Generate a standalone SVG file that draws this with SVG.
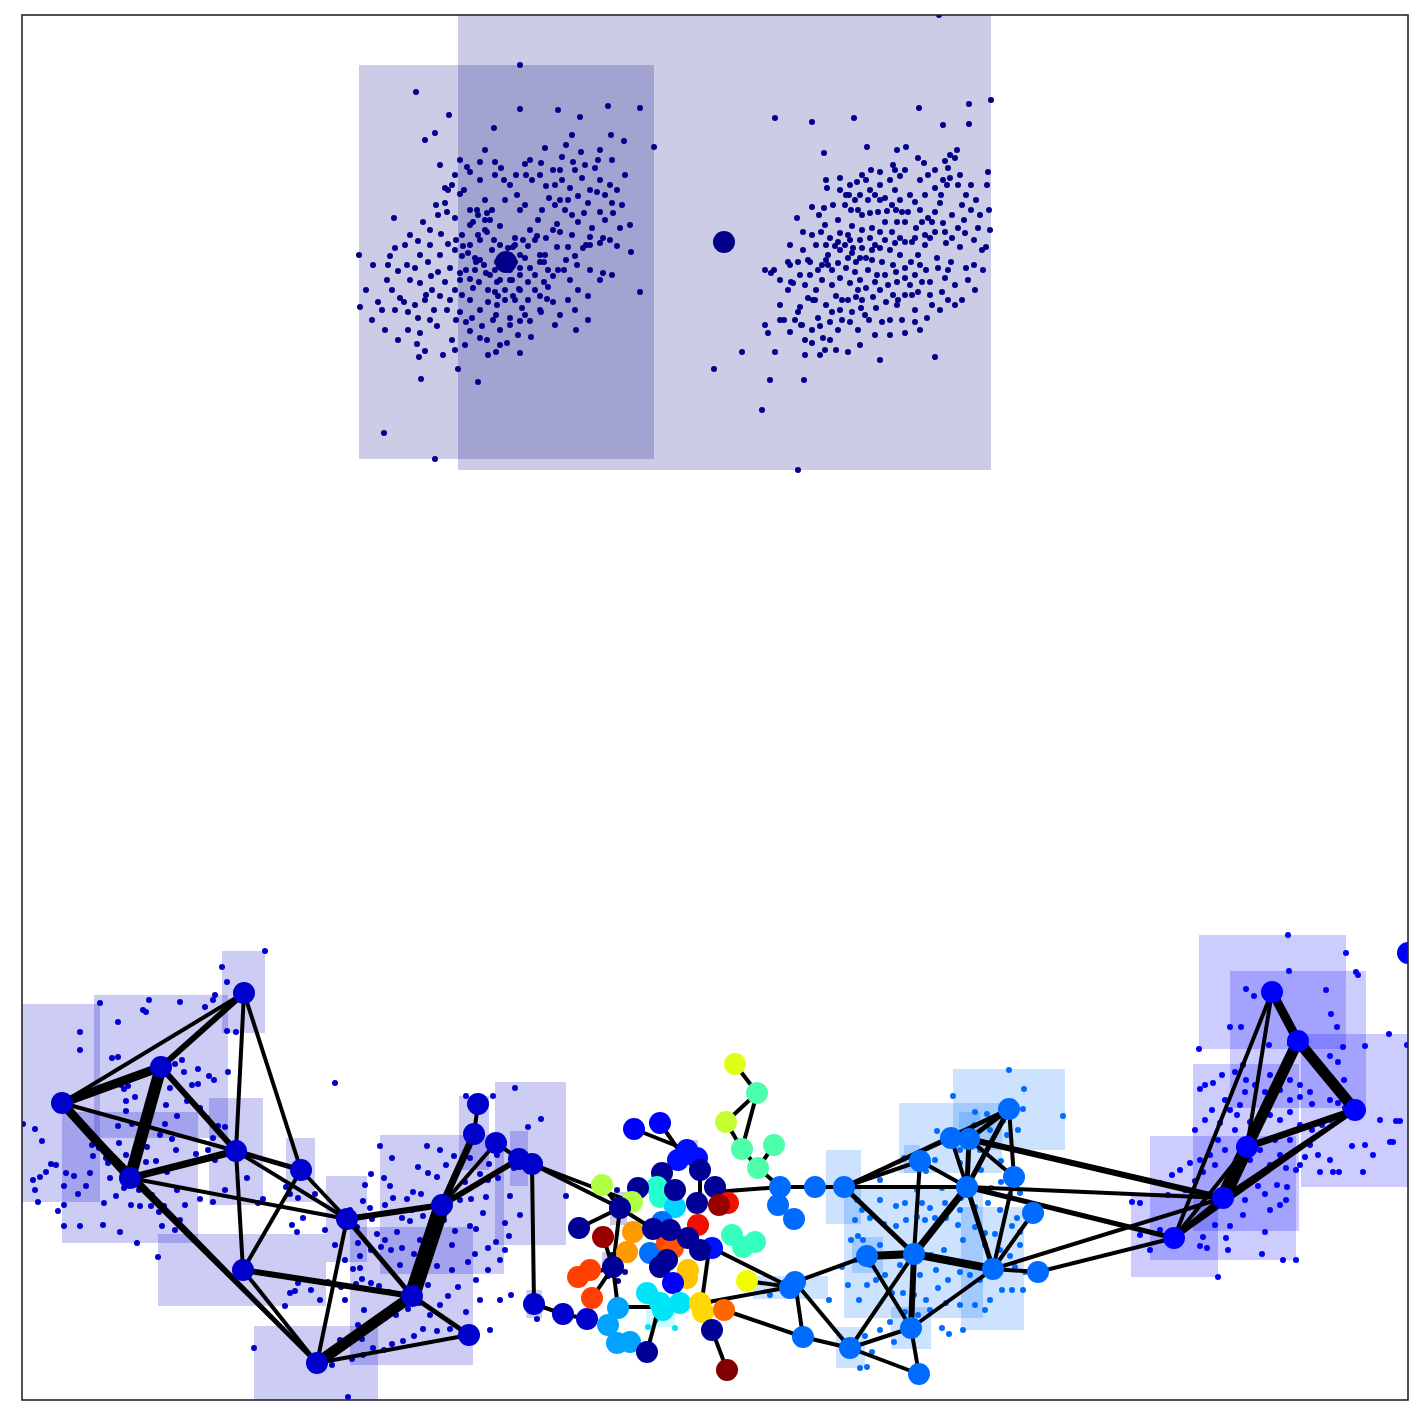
<svg xmlns="http://www.w3.org/2000/svg" width="1423" height="1423" viewBox="0 0 1423 1423">
<style>
.rt{fill:#000080;fill-opacity:.2}
.rl{fill:#0000cd;fill-opacity:.2}
.rr{fill:#0000ff;fill-opacity:.2}
.rm{fill:#006cff;fill-opacity:.2}
.d{fill:none;stroke-linecap:round;stroke-width:6}
.e{stroke:#000;stroke-linecap:butt;stroke-width:4}
.nl{fill:#0000cd}
.nr{fill:#0000ff}
.nm{fill:#006cff}
.nt{fill:#000088}
</style>
<defs>
<clipPath id="ax"><rect x="22" y="15" width="1386" height="1385"/></clipPath>
</defs>
<rect x="0" y="0" width="1423" height="1423" fill="#fff"/>
<g clip-path="url(#ax)">
<g id="regions">
<rect class="rt" x="359" y="65" width="295" height="394"/>
<rect class="rt" x="458" y="0" width="533" height="470"/>
<rect class="rl" x="10" y="1004" width="90" height="198"/>
<rect class="rl" x="94" y="995" width="134" height="143"/>
<rect class="rl" x="62" y="1112" width="136" height="131"/>
<rect class="rl" x="222" y="951" width="43" height="82"/>
<rect class="rl" x="209" y="1098" width="54" height="107"/>
<rect class="rl" x="158" y="1234" width="168" height="72"/>
<rect class="rl" x="254" y="1326" width="124" height="84"/>
<rect class="rl" x="286" y="1138" width="29" height="64"/>
<rect class="rl" x="326" y="1176" width="41" height="86"/>
<rect class="rl" x="380" y="1135" width="124" height="139"/>
<rect class="rl" x="350" y="1227" width="123" height="138"/>
<rect class="rl" x="459" y="1096" width="30" height="74"/>
<rect class="rl" x="495" y="1082" width="71" height="163"/>
<rect class="rl" x="510" y="1131" width="18" height="55"/>
<rect class="rl" x="526" y="1290" width="16" height="28"/>
<rect class="rt" x="610" y="1192" width="17" height="33"/>
<rect class="rt" x="602" y="1252" width="10" height="21"/>
<rect class="rt" x="687" y="1140" width="11" height="10"/>
<rect x="646" y="1303" width="29" height="24" fill="#00e4f8" fill-opacity=".2"/>
<rect class="rm" x="753" y="1276" width="75" height="23"/>
<rect class="rm" x="953" y="1069" width="112" height="81"/>
<rect class="rm" x="899" y="1103" width="103" height="70"/>
<rect class="rm" x="959" y="1112" width="21" height="33"/>
<rect class="rm" x="826" y="1150" width="35" height="74"/>
<rect class="rm" x="904" y="1145" width="16" height="28"/>
<rect class="rm" x="844" y="1189" width="139" height="129"/>
<rect class="rm" x="961" y="1207" width="63" height="123"/>
<rect class="rm" x="852" y="1237" width="31" height="36"/>
<rect class="rm" x="891" y="1307" width="40" height="42"/>
<rect class="rm" x="836" y="1327" width="29" height="41"/>
<rect class="rr" x="1199" y="935" width="147" height="114"/>
<rect class="rr" x="1230" y="971" width="136" height="137"/>
<rect class="rr" x="1301" y="1034" width="110" height="153"/>
<rect class="rr" x="1193" y="1064" width="106" height="167"/>
<rect class="rr" x="1150" y="1136" width="146" height="124"/>
<rect class="rr" x="1131" y="1193" width="87" height="84"/>
</g>
<g id="points">
<path class="d" stroke="#000088" d="M520 65h0M416 92h0M449 115h0M520 109h0M558 110h0M608 106h0M640 108h0M580 117h0M494 128h0M425 140h0M435 133h0M611 135h0M572 135h0M654 147h0M624 141h0M440 165h0M581 152h0M562 157h0M598 160h0M541 163h0M573 162h0M612 160h0M595 168h0M460 160h0M467 167h0M495 162h0M501 168h0M525 164h0M545 148h0M553 170h0M526 175h0M546 186h0M549 198h0M560 200h0M532 180h0M510 185h0M480 180h0M464 190h0M445 203h0M447 212h0M455 218h0M478 215h0M485 220h0M492 210h0M470 225h0M520 210h0M525 205h0M538 220h0M557 224h0M572 215h0M584 213h0M600 212h0M612 203h0M605 220h0M586 245h0M603 238h0M630 225h0M631 252h0M617 246h0M590 237h0M568 247h0M572 235h0M553 230h0M535 240h0M523 240h0M515 238h0M500 226h0M487 232h0M470 245h0M455 250h0M440 255h0M462 256h0M480 260h0M475 270h0M486 273h0M495 270h0M513 247h0M520 255h0M525 258h0M544 262h0M545 255h0M557 247h0M560 232h0M566 260h0M577 265h0M590 270h0M570 280h0M548 287h0M535 290h0M520 290h0M515 300h0M522 308h0M540 296h0M568 300h0M588 296h0M600 280h0M640 292h0M560 315h0M576 330h0M555 325h0M525 315h0M510 325h0M500 330h0M493 320h0M480 310h0M470 300h0M462 295h0M450 300h0M440 296h0M426 295h0M415 305h0M408 312h0M395 310h0M382 310h0M378 302h0M360 307h0M373 265h0M390 256h0M398 271h0M407 265h0M410 280h0M420 283h0M431 276h0M432 290h0M400 298h0M387 280h0M359 255h0M394 218h0M441 234h0M448 244h0M430 230h0M452 185h0M460 194h0M418 241h0M428 262h0M450 268h0M460 280h0M473 288h0M488 290h0M498 296h0M505 290h0M512 280h0M500 280h0M497 305h0M487 340h0M496 352h0M520 353h0M507 343h0M480 338h0M470 331h0M452 340h0M443 355h0M425 351h0M417 344h0M420 333h0M437 326h0M456 320h0M466 322h0M482 326h0M458 369h0M478 382h0M421 379h0M419 357h0M384 433h0M435 459h0M540 262h0M530 268h0M510 270h0M492 250h0M515 262h0M505 255h0M497 262h0M530 230h0M480 240h0M462 235h0M470 210h0M485 200h0M505 200h0M517 195h0M542 210h0M555 205h0M590 190h0M600 180h0M625 175h0M610 185h0M582 178h0M570 188h0M562 180h0M456 240h0M438 272h0M445 282h0M455 290h0M475 258h0M535 275h0M548 270h0M558 270h0M603 273h0M612 275h0M578 290h0M553 302h0M540 310h0M528 300h0M575 310h0M588 320h0M477 210h0M487 213h0M490 220h0M485 230h0M473 222h0M478 235h0M494 240h0M500 245h0M508 248h0M515 245h0M528 246h0M537 236h0M546 238h0M540 255h0M528 282h0M520 268h0M520 275h0M510 280h0M497 282h0M490 275h0M484 265h0M476 262h0M468 253h0M463 246h0M466 270h0M460 273h0M470 279h0M479 282h0M488 302h0M495 292h0M519 289h0M513 296h0M505 300h0M496 315h0M510 318h0M520 321h0M530 321h0M541 312h0M547 299h0M544 282h0M553 276h0M564 270h0M575 256h0M583 248h0M590 245h0M600 243h0M610 240h0M592 228h0M578 222h0M565 210h0M568 200h0M578 196h0M588 203h0M597 192h0M605 195h0M617 190h0M622 205h0M613 213h0M620 228h0M480 162h0M470 172h0M495 175h0M504 180h0M516 175h0M530 160h0M540 175h0M555 185h0M560 170h0M575 170h0M585 165h0M600 150h0M566 145h0M485 150h0M455 175h0M445 188h0M438 215h0M430 245h0M420 255h0M415 268h0M425 300h0M434 310h0M447 310h0M460 312h0M472 318h0M465 345h0M455 350h0M488 355h0M500 345h0M518 335h0M531 337h0M448 190h0M436 205h0M423 222h0M410 235h0M405 245h0M395 248h0M388 265h0M392 290h0M404 302h0M418 318h0M430 320h0M408 330h0M398 340h0M385 330h0M372 320h0M366 290h0"/>
<path class="d" stroke="#000088" d="M939 15h0M775 118h0M812 122h0M854 118h0M919 108h0M969 104h0M991 100h0M969 124h0M943 125h0M906 147h0M897 150h0M824 153h0M867 147h0M945 161h0M893 165h0M924 163h0M895 170h0M918 158h0M900 176h0M920 180h0M935 170h0M955 158h0M950 155h0M957 150h0M988 172h0M987 185h0M971 185h0M958 185h0M947 185h0M941 195h0M880 185h0M866 180h0M871 170h0M857 182h0M840 178h0M826 180h0M827 188h0M849 195h0M833 205h0M846 195h0M851 210h0M855 200h0M824 208h0M812 207h0M819 215h0M821 232h0M803 232h0M808 260h0M797 218h0M790 245h0M790 265h0M774 270h0M771 273h0M780 280h0M765 270h0M791 282h0M793 283h0M800 275h0M810 262h0M826 260h0M840 250h0M828 255h0M826 245h0M830 238h0M840 233h0M848 235h0M838 220h0M852 226h0M862 215h0M870 213h0M878 212h0M887 211h0M896 210h0M908 212h0M900 200h0M910 195h0M920 210h0M932 222h0M943 223h0M952 238h0M965 233h0M974 240h0M990 230h0M986 247h0M960 247h0M951 262h0M948 270h0M966 268h0M974 265h0M983 270h0M937 258h0M925 245h0M912 242h0M900 238h0M892 232h0M880 232h0M870 238h0M860 240h0M853 248h0M848 258h0M856 262h0M866 258h0M872 260h0M882 262h0M893 265h0M905 268h0M911 262h0M918 255h0M900 255h0M890 250h0M880 248h0M872 250h0M868 270h0M860 280h0M850 283h0M840 278h0M832 285h0M822 280h0M816 290h0M808 298h0M800 307h0M798 312h0M795 320h0M802 325h0M818 318h0M830 322h0M840 310h0M848 300h0M856 297h0M862 300h0M873 297h0M880 290h0M888 285h0M897 282h0M910 285h0M922 282h0M930 295h0M942 292h0M948 300h0M932 305h0M915 310h0M902 320h0M890 320h0M882 322h0M869 320h0M861 308h0M850 322h0M838 330h0M830 340h0M823 338h0M812 343h0M805 355h0M790 332h0M784 320h0M768 333h0M765 325h0M775 352h0M742 352h0M714 369h0M770 380h0M762 410h0M804 380h0M825 350h0M848 352h0M858 330h0M880 360h0M897 305h0M912 295h0M920 330h0M935 357h0M801 325h0M813 300h0M832 270h0M846 268h0M855 272h0M877 275h0M905 242h0M916 228h0M928 218h0M940 203h0M962 205h0M971 210h0M952 215h0M946 243h0M964 220h0M895 190h0M880 200h0M860 195h0M870 190h0M905 222h0M930 238h0M920 265h0M893 295h0M860 258h0M838 263h0M822 265h0M816 245h0M836 296h0M788 262h0M798 470h0M845 205h0M858 210h0M868 200h0M875 195h0M885 198h0M892 205h0M902 212h0M915 202h0M925 195h0M935 188h0M943 180h0M950 178h0M960 175h0M966 195h0M976 200h0M980 215h0M958 228h0M945 232h0M935 232h0M925 235h0M915 238h0M895 243h0M885 240h0M875 245h0M862 248h0M852 253h0M845 245h0M835 246h0M828 265h0M818 270h0M810 275h0M805 285h0M815 300h0M826 305h0M842 300h0M858 290h0M866 288h0M875 282h0M885 275h0M896 272h0M905 278h0M915 275h0M926 270h0M938 268h0M945 278h0M955 285h0M930 282h0M918 292h0M905 295h0M898 300h0M886 302h0M876 308h0M865 315h0M852 312h0M842 320h0M832 312h0M820 326h0M812 330h0M805 340h0M820 355h0M836 350h0M860 345h0M875 335h0M890 335h0M905 333h0M915 322h0M927 318h0M940 310h0M955 305h0M962 300h0M975 290h0M968 280h0M982 250h0M978 228h0M989 210h0M935 212h0M922 222h0M897 222h0M885 222h0M872 228h0M862 230h0M850 240h0M838 242h0M825 225h0M812 235h0M803 250h0M798 262h0M788 290h0M780 305h0M780 320h0M840 190h0M850 185h0M862 175h0M880 172h0M890 180h0M905 170h0M928 175h0M948 168h0"/>
<path class="d" stroke="#0000cd" d="M265 951h0M222 967h0M227 982h0M149 1000h0M100 1003h0M180 1002h0M143 1010h0M146 1012h0M118 1022h0M80 1032h0M80 1050h0M118 1057h0M213 1000h0M215 995h0M205 1007h0M236 1032h0M227 1031h0M112 1058h0M182 1060h0M175 1064h0M198 1069h0M184 1072h0M121 1085h0M128 1086h0M124 1089h0M135 1097h0M126 1101h0M150 1096h0M170 1088h0M192 1085h0M198 1084h0M209 1076h0M214 1080h0M228 1072h0M166 1105h0M177 1116h0M187 1101h0M200 1108h0M207 1118h0M218 1126h0M213 1138h0M225 1127h0M165 1124h0M150 1115h0M172 1139h0M147 1147h0M136 1153h0M126 1155h0M116 1163h0M108 1163h0M93 1156h0M92 1145h0M99 1148h0M106 1158h0M119 1143h0M132 1124h0M118 1126h0M126 1111h0M142 1124h0M160 1135h0M176 1150h0M196 1154h0M208 1150h0M215 1160h0M225 1190h0M213 1202h0M200 1199h0M185 1205h0M177 1190h0M167 1172h0M156 1161h0M146 1162h0M134 1165h0M110 1178h0M90 1173h0M86 1186h0M78 1194h0M74 1176h0M64 1186h0M51 1164h0M56 1165h0M46 1172h0M40 1177h0M35 1190h0M35 1129h0M23 1124h0M42 1141h0M66 1173h0M104 1203h0M116 1196h0M124 1188h0M139 1190h0M152 1195h0M164 1206h0M180 1220h0M175 1230h0M162 1226h0M151 1206h0M140 1206h0M131 1205h0M120 1232h0M103 1225h0M64 1205h0M64 1226h0M80 1226h0M38 1202h0M33 1180h0M58 1211h0M137 1243h0M158 1257h0M159 1212h0M247 1178h0M263 1199h0M258 1203h0M303 1218h0M292 1225h0M298 1198h0M290 1194h0M286 1187h0M315 1194h0M297 1232h0M254 1348h0M285 1306h0M290 1293h0M295 1291h0M335 1083h0M466 1096h0M493 1096h0M515 1088h0M380 1146h0M427 1146h0M440 1150h0M454 1156h0M470 1158h0M392 1158h0M418 1167h0M428 1173h0M437 1177h0M446 1165h0M465 1182h0M480 1174h0M488 1180h0M498 1178h0M510 1196h0M520 1215h0M505 1223h0M483 1213h0M470 1226h0M455 1231h0M438 1227h0M423 1216h0M410 1221h0M402 1218h0M397 1232h0M385 1240h0M377 1234h0M372 1219h0M357 1227h0M350 1221h0M363 1201h0M370 1208h0M385 1205h0M393 1198h0M407 1199h0M413 1192h0M421 1194h0M412 1210h0M390 1186h0M384 1178h0M371 1174h0M365 1185h0M350 1210h0M358 1243h0M360 1256h0M371 1250h0M381 1247h0M391 1250h0M402 1248h0M414 1254h0M428 1258h0M437 1266h0M452 1270h0M468 1262h0M475 1254h0M488 1248h0M496 1242h0M488 1270h0M476 1280h0M458 1287h0M448 1296h0M440 1305h0M430 1315h0M423 1329h0M414 1336h0M403 1341h0M392 1344h0M384 1350h0M373 1348h0M363 1355h0M352 1359h0M362 1339h0M374 1325h0M385 1318h0M396 1315h0M408 1309h0M419 1303h0M389 1292h0M379 1286h0M371 1283h0M362 1279h0M353 1269h0M345 1260h0M345 1300h0M364 1310h0M437 1331h0M450 1329h0M466 1312h0M480 1300h0M490 1330h0M500 1300h0M511 1295h0M476 1229h0M505 1250h0M325 1230h0M335 1245h0M320 1300h0M340 1340h0M332 1365h0M348 1397h0M298 1283h0M341 1287h0M356 1284h0M360 1268h0M311 1290h0M328 1282h0M518 1155h0M514 1168h0M528 1127h0M541 1119h0M499 1140h0M497 1155h0M489 1164h0M471 1199h0M486 1197h0M509 1236h0M500 1260h0M453 1181h0M460 1200h0M444 1220h0M452 1245h0M420 1240h0M400 1265h0M415 1278h0M428 1285h0M358 1325h0M566 1196h0M537 1319h0"/>
<path class="d" stroke="#000088" d="M617 1190h0M612 1255h0M625 1272h0M608 1276h0M618 1281h0M635 1203h0"/>
<path class="d" stroke="#00e4f8" d="M648 1327h0M675 1328h0M656 1320h0"/>
<path class="d" stroke="#006cff" d="M1009 1070h0M1024 1089h0M953 1096h0M1063 1116h0M975 1112h0M987 1114h0M1023 1109h0M937 1131h0M974 1125h0M1003 1121h0M1018 1130h0M1007 1135h0M990 1130h0M980 1150h0M960 1150h0M1001 1161h0M995 1145h0M904 1158h0M935 1160h0M960 1163h0M981 1170h0M926 1171h0M880 1180h0M917 1190h0M942 1188h0M961 1198h0M991 1188h0M1001 1182h0M1010 1195h0M1020 1193h0M857 1200h0M862 1210h0M855 1220h0M880 1200h0M896 1206h0M905 1203h0M922 1203h0M930 1208h0M945 1203h0M960 1210h0M975 1207h0M988 1203h0M1000 1210h0M1017 1218h0M1020 1232h0M1012 1226h0M995 1234h0M985 1233h0M975 1227h0M958 1225h0M946 1218h0M935 1218h0M925 1220h0M917 1217h0M906 1220h0M896 1226h0M884 1224h0M870 1218h0M858 1236h0M863 1240h0M851 1240h0M856 1260h0M842 1267h0M848 1285h0M859 1300h0M867 1285h0M876 1280h0M885 1275h0M892 1293h0M903 1293h0M914 1295h0M926 1300h0M938 1288h0M948 1280h0M960 1272h0M970 1275h0M980 1280h0M1002 1290h0M1012 1290h0M1023 1290h0M990 1300h0M975 1305h0M960 1305h0M946 1303h0M930 1310h0M918 1315h0M905 1312h0M890 1322h0M880 1330h0M865 1336h0M872 1352h0M894 1342h0M903 1330h0M942 1328h0M931 1255h0M944 1250h0M950 1262h0M936 1270h0M920 1275h0M900 1265h0M890 1255h0M880 1245h0M870 1265h0M1000 1250h0M1010 1256h0M1015 1267h0M1025 1272h0M1020 1245h0M963 1240h0M985 1245h0M860 1368h0M867 1367h0M963 1330h0M949 1334h0M985 1310h0M829 1300h0M770 1295h0"/>
<path class="d" stroke="#0000ff" d="M1288 935h0M1346 953h0M1356 972h0M1358 975h0M1289 971h0M1246 989h0M1254 996h0M1326 990h0M1331 1014h0M1337 1027h0M1230 1027h0M1241 1027h0M1199 1049h0M1290 1044h0M1269 1045h0M1389 1034h0M1365 1046h0M1343 1047h0M1310 1052h0M1243 1065h0M1270 1075h0M1290 1080h0M1300 1085h0M1318 1062h0M1330 1056h0M1338 1062h0M1323 1074h0M1344 1080h0M1337 1085h0M1330 1100h0M1338 1103h0M1345 1108h0M1300 1097h0M1310 1092h0M1290 1100h0M1280 1090h0M1265 1092h0M1255 1085h0M1246 1080h0M1245 1092h0M1240 1105h0M1237 1115h0M1230 1110h0M1225 1100h0M1212 1110h0M1200 1089h0M1205 1085h0M1213 1083h0M1220 1123h0M1235 1130h0M1250 1122h0M1262 1120h0M1270 1115h0M1280 1120h0M1290 1112h0M1300 1125h0M1312 1130h0M1322 1125h0M1330 1120h0M1310 1145h0M1305 1157h0M1318 1155h0M1330 1160h0M1352 1146h0M1365 1145h0M1380 1120h0M1396 1121h0M1400 1121h0M1393 1142h0M1373 1155h0M1390 1142h0M1363 1172h0M1339 1172h0M1333 1172h0M1320 1172h0M1296 1170h0M1286 1168h0M1260 1175h0M1270 1165h0M1280 1155h0M1290 1140h0M1275 1140h0M1260 1150h0M1245 1140h0M1225 1150h0M1210 1155h0M1200 1160h0M1190 1163h0M1180 1170h0M1172 1175h0M1168 1195h0M1160 1183h0M1140 1203h0M1132 1202h0M1185 1190h0M1195 1181h0M1203 1172h0M1215 1165h0M1238 1160h0M1250 1160h0M1258 1186h0M1265 1194h0M1245 1200h0M1243 1215h0M1230 1226h0M1215 1225h0M1203 1237h0M1200 1246h0M1207 1248h0M1226 1238h0M1265 1232h0M1283 1260h0M1296 1260h0M1262 1254h0M1218 1277h0M1228 1250h0M1286 1200h0M1277 1185h0M1300 1165h0M1287 1187h0M1270 1210h0M1280 1205h0M1160 1230h0M1150 1250h0M1166 1240h0M1140 1235h0M1195 1130h0M1205 1120h0M1218 1140h0M1312 1104h0M1315 1065h0M1235 1072h0M1222 1075h0M1407 1045h0"/>
</g>
<g id="edges" class="e">
<line x1="62" y1="1103" x2="244" y2="993"/>
<line x1="62" y1="1103" x2="161" y2="1067" stroke-width="9"/>
<line x1="62" y1="1103" x2="130" y2="1178" stroke-width="9"/>
<line x1="62" y1="1103" x2="236" y2="1151"/>
<line x1="62" y1="1103" x2="317" y2="1363"/>
<line x1="161" y1="1067" x2="244" y2="993" stroke-width="6"/>
<line x1="161" y1="1067" x2="130" y2="1178" stroke-width="12"/>
<line x1="161" y1="1067" x2="236" y2="1151" stroke-width="6"/>
<line x1="244" y1="993" x2="236" y2="1151"/>
<line x1="244" y1="993" x2="301" y2="1170"/>
<line x1="130" y1="1178" x2="236" y2="1151" stroke-width="7"/>
<line x1="130" y1="1178" x2="347" y2="1219"/>
<line x1="130" y1="1178" x2="317" y2="1363"/>
<line x1="236" y1="1151" x2="301" y2="1170" stroke-width="5"/>
<line x1="236" y1="1151" x2="347" y2="1219"/>
<line x1="236" y1="1151" x2="243" y2="1270"/>
<line x1="301" y1="1170" x2="243" y2="1270"/>
<line x1="301" y1="1170" x2="347" y2="1219"/>
<line x1="243" y1="1270" x2="412" y2="1296" stroke-width="6"/>
<line x1="243" y1="1270" x2="317" y2="1363"/>
<line x1="347" y1="1219" x2="442" y2="1205" stroke-width="6"/>
<line x1="347" y1="1219" x2="412" y2="1296" stroke-width="5"/>
<line x1="347" y1="1219" x2="317" y2="1363"/>
<line x1="317" y1="1363" x2="412" y2="1296" stroke-width="11"/>
<line x1="317" y1="1363" x2="469" y2="1335"/>
<line x1="412" y1="1296" x2="469" y2="1335" stroke-width="5"/>
<line x1="412" y1="1296" x2="442" y2="1205" stroke-width="16"/>
<line x1="442" y1="1205" x2="474" y2="1134" stroke-width="7"/>
<line x1="474" y1="1134" x2="478" y2="1104"/>
<line x1="442" y1="1205" x2="496" y2="1143"/>
<line x1="442" y1="1205" x2="519" y2="1159" stroke-width="6"/>
<line x1="496" y1="1143" x2="519" y2="1159"/>
<line x1="519" y1="1159" x2="532" y2="1164"/>
<line x1="532" y1="1164" x2="534" y2="1304"/>
<line x1="534" y1="1304" x2="563" y2="1314"/>
<line x1="563" y1="1314" x2="587" y2="1319"/>
<line x1="532" y1="1164" x2="620" y2="1208"/>
<line x1="519" y1="1159" x2="632" y2="1202"/>
<line x1="735" y1="1064" x2="757" y2="1093"/>
<line x1="757" y1="1093" x2="726" y2="1122"/>
<line x1="757" y1="1093" x2="742" y2="1149"/>
<line x1="726" y1="1122" x2="742" y2="1149"/>
<line x1="742" y1="1149" x2="758" y2="1168"/>
<line x1="774" y1="1145" x2="758" y2="1168"/>
<line x1="758" y1="1168" x2="780" y2="1187"/>
<line x1="780" y1="1187" x2="844" y2="1187"/>
<line x1="780" y1="1187" x2="715" y2="1192"/>
<line x1="634" y1="1129" x2="687" y2="1150"/>
<line x1="660" y1="1123" x2="680" y2="1152"/>
<line x1="700" y1="1170" x2="700" y2="1200"/>
<line x1="620" y1="1208" x2="579" y2="1228"/>
<line x1="620" y1="1208" x2="602" y2="1185"/>
<line x1="620" y1="1208" x2="613" y2="1267"/>
<line x1="620" y1="1208" x2="653" y2="1229"/>
<line x1="613" y1="1267" x2="603" y2="1237"/>
<line x1="613" y1="1267" x2="578" y2="1277"/>
<line x1="613" y1="1267" x2="592" y2="1298"/>
<line x1="613" y1="1267" x2="627" y2="1252"/>
<line x1="613" y1="1267" x2="618" y2="1308"/>
<line x1="618" y1="1307" x2="663" y2="1307"/>
<line x1="647" y1="1352" x2="660" y2="1303"/>
<line x1="703" y1="1303" x2="790" y2="1287"/>
<line x1="712" y1="1248" x2="790" y2="1287"/>
<line x1="747" y1="1281" x2="790" y2="1287"/>
<line x1="724" y1="1310" x2="803" y2="1337"/>
<line x1="712" y1="1330" x2="727" y2="1370"/>
<line x1="712" y1="1330" x2="703" y2="1303"/>
<line x1="703" y1="1293" x2="708" y2="1257"/>
<line x1="795" y1="1282" x2="867" y2="1256"/>
<line x1="795" y1="1282" x2="803" y2="1337"/>
<line x1="795" y1="1282" x2="850" y2="1348"/>
<line x1="803" y1="1337" x2="850" y2="1348"/>
<line x1="844" y1="1187" x2="920" y2="1161"/>
<line x1="844" y1="1187" x2="951" y2="1138"/>
<line x1="844" y1="1187" x2="1009" y2="1109"/>
<line x1="844" y1="1187" x2="967" y2="1187"/>
<line x1="844" y1="1187" x2="914" y2="1254" stroke-width="5"/>
<line x1="920" y1="1161" x2="967" y2="1187"/>
<line x1="920" y1="1161" x2="914" y2="1254"/>
<line x1="951" y1="1138" x2="967" y2="1187"/>
<line x1="969" y1="1139" x2="967" y2="1187" stroke-width="5"/>
<line x1="1009" y1="1109" x2="967" y2="1187" stroke-width="5"/>
<line x1="1009" y1="1109" x2="969" y2="1139" stroke-width="5"/>
<line x1="1009" y1="1109" x2="951" y2="1138"/>
<line x1="1009" y1="1109" x2="1014" y2="1177"/>
<line x1="969" y1="1139" x2="1014" y2="1177"/>
<line x1="1014" y1="1177" x2="993" y2="1269"/>
<line x1="967" y1="1187" x2="914" y2="1254" stroke-width="7"/>
<line x1="967" y1="1187" x2="993" y2="1269" stroke-width="5"/>
<line x1="914" y1="1254" x2="993" y2="1269" stroke-width="8"/>
<line x1="867" y1="1256" x2="914" y2="1254" stroke-width="8"/>
<line x1="1033" y1="1213" x2="993" y2="1269"/>
<line x1="993" y1="1269" x2="1038" y2="1272"/>
<line x1="914" y1="1254" x2="911" y2="1328" stroke-width="6"/>
<line x1="914" y1="1254" x2="850" y2="1348"/>
<line x1="867" y1="1256" x2="911" y2="1328"/>
<line x1="993" y1="1269" x2="911" y2="1328"/>
<line x1="850" y1="1348" x2="911" y2="1328"/>
<line x1="850" y1="1348" x2="919" y2="1374"/>
<line x1="911" y1="1328" x2="919" y2="1374"/>
<line x1="969" y1="1139" x2="1223" y2="1198" stroke-width="6"/>
<line x1="967" y1="1187" x2="1223" y2="1198"/>
<line x1="967" y1="1187" x2="1174" y2="1238" stroke-width="5"/>
<line x1="993" y1="1269" x2="1223" y2="1198"/>
<line x1="1038" y1="1272" x2="1174" y2="1238"/>
<line x1="1272" y1="992" x2="1298" y2="1041" stroke-width="9"/>
<line x1="1298" y1="1041" x2="1355" y2="1110" stroke-width="11"/>
<line x1="1272" y1="992" x2="1247" y2="1147"/>
<line x1="1272" y1="992" x2="1174" y2="1238"/>
<line x1="1298" y1="1041" x2="1247" y2="1147" stroke-width="11"/>
<line x1="1247" y1="1147" x2="1223" y2="1198" stroke-width="14"/>
<line x1="1355" y1="1110" x2="1247" y2="1147" stroke-width="7"/>
<line x1="1355" y1="1110" x2="1223" y2="1198" stroke-width="5"/>
<line x1="1355" y1="1110" x2="1174" y2="1238"/>
<line x1="1247" y1="1147" x2="1174" y2="1238"/>
<line x1="1223" y1="1198" x2="1174" y2="1238" stroke-width="6"/>
</g>
<g id="nodes">
<g id="T1"><circle class="nt" cx="506" cy="262" r="11"/></g>
<g id="T2"><circle class="nt" cx="724" cy="242" r="11"/></g>
<g id="L1"><circle class="nl" cx="244" cy="993" r="11"/></g>
<g id="L2"><circle class="nl" cx="161" cy="1067" r="11"/></g>
<g id="L3"><circle class="nl" cx="62" cy="1103" r="11"/></g>
<g id="L4"><circle class="nl" cx="130" cy="1178" r="11"/></g>
<g id="L5"><circle class="nl" cx="236" cy="1151" r="11"/></g>
<g id="L6"><circle class="nl" cx="301" cy="1170" r="11"/></g>
<g id="L7"><circle class="nl" cx="347" cy="1219" r="11"/></g>
<g id="L8"><circle class="nl" cx="243" cy="1270" r="11"/></g>
<g id="L9"><circle class="nl" cx="317" cy="1363" r="11"/></g>
<g id="L10"><circle class="nl" cx="412" cy="1296" r="11"/></g>
<g id="L11"><circle class="nl" cx="469" cy="1335" r="11"/></g>
<g id="L12"><circle class="nl" cx="442" cy="1205" r="11"/></g>
<g id="L13"><circle class="nl" cx="474" cy="1134" r="11"/></g>
<g id="L14"><circle class="nl" cx="478" cy="1104" r="11"/></g>
<g id="L15"><circle class="nl" cx="496" cy="1143" r="11"/></g>
<g id="L16"><circle class="nl" cx="519" cy="1159" r="11"/></g>
<g id="L17"><circle class="nl" cx="532" cy="1164" r="11"/></g>
<g id="L18"><circle class="nl" cx="534" cy="1304" r="11"/></g>
<g id="L19"><circle class="nl" cx="563" cy="1314" r="11"/></g>
<g id="L20"><circle class="nl" cx="587" cy="1319" r="11"/></g>
<g id="C1"><circle cx="735" cy="1064" r="11" fill="#dfff18"/></g>
<g id="C2"><circle cx="757" cy="1093" r="11" fill="#4dffaa"/></g>
<g id="C3"><circle cx="726" cy="1122" r="11" fill="#c4ff33"/></g>
<g id="C4"><circle cx="742" cy="1149" r="11" fill="#4dffaa"/></g>
<g id="C5"><circle cx="774" cy="1145" r="11" fill="#4dffaa"/></g>
<g id="C6"><circle cx="758" cy="1168" r="11" fill="#4dffaa"/></g>
<g id="C7"><circle cx="634" cy="1129" r="11" fill="#0000ff"/></g>
<g id="C8"><circle cx="660" cy="1123" r="11" fill="#0000ff"/></g>
<g id="C9"><circle cx="687" cy="1150" r="11" fill="#0010ff"/></g>
<g id="C10"><circle cx="678" cy="1160" r="11" fill="#0010ff"/></g>
<g id="C11"><circle cx="697" cy="1158" r="11" fill="#0010ff"/></g>
<g id="C12"><circle cx="700" cy="1170" r="11" fill="#000096"/></g>
<g id="C13"><circle cx="662" cy="1173" r="11" fill="#000096"/></g>
<g id="C14"><circle cx="657" cy="1187" r="11" fill="#26ffd0"/></g>
<g id="C15"><circle cx="660" cy="1197" r="11" fill="#26ffd0"/></g>
<g id="C16"><circle cx="675" cy="1207" r="11" fill="#00d4ff"/></g>
<g id="C17"><circle cx="638" cy="1188" r="11" fill="#000096"/></g>
<g id="C18"><circle cx="675" cy="1190" r="11" fill="#000096"/></g>
<g id="C19"><circle cx="602" cy="1185" r="11" fill="#b0ff46"/></g>
<g id="C20"><circle cx="632" cy="1202" r="11" fill="#b0ff46"/></g>
<g id="C21"><circle cx="620" cy="1208" r="11" fill="#000096"/></g>
<g id="C22"><circle cx="579" cy="1228" r="11" fill="#000096"/></g>
<g id="C23"><circle cx="603" cy="1237" r="11" fill="#990000"/></g>
<g id="C24"><circle cx="697" cy="1203" r="11" fill="#000096"/></g>
<g id="C25"><circle cx="715" cy="1187" r="11" fill="#000096"/></g>
<g id="C26"><circle cx="728" cy="1203" r="11" fill="#f01000"/></g>
<g id="C27"><circle cx="719" cy="1205" r="11" fill="#990000"/></g>
<g id="C28"><circle cx="633" cy="1232" r="11" fill="#ff9900"/></g>
<g id="C29"><circle cx="627" cy="1252" r="11" fill="#ff9900"/></g>
<g id="C30"><circle cx="662" cy="1222" r="11" fill="#0070ff"/></g>
<g id="C31"><circle cx="650" cy="1253" r="11" fill="#0070ff"/></g>
<g id="C32"><circle cx="698" cy="1225" r="11" fill="#f01000"/></g>
<g id="C33"><circle cx="667" cy="1243" r="11" fill="#ff4400"/></g>
<g id="C34"><circle cx="673" cy="1248" r="11" fill="#ff5500"/></g>
<g id="C35"><circle cx="653" cy="1229" r="11" fill="#000096"/></g>
<g id="C36"><circle cx="670" cy="1230" r="11" fill="#000096"/></g>
<g id="C37"><circle cx="688" cy="1238" r="11" fill="#000096"/></g>
<g id="C38"><circle cx="712" cy="1248" r="11" fill="#0010ff"/></g>
<g id="C39"><circle cx="700" cy="1250" r="11" fill="#000096"/></g>
<g id="C40"><circle cx="732" cy="1235" r="11" fill="#36ffc0"/></g>
<g id="C41"><circle cx="743" cy="1247" r="11" fill="#36ffc0"/></g>
<g id="C42"><circle cx="755" cy="1242" r="11" fill="#36ffc0"/></g>
<g id="C43"><circle cx="667" cy="1260" r="11" fill="#000096"/></g>
<g id="C44"><circle cx="660" cy="1267" r="11" fill="#000096"/></g>
<g id="C45"><circle cx="613" cy="1267" r="11" fill="#000096"/></g>
<g id="C46"><circle cx="578" cy="1277" r="11" fill="#ff4000"/></g>
<g id="C47"><circle cx="590" cy="1270" r="11" fill="#ff4000"/></g>
<g id="C48"><circle cx="592" cy="1298" r="11" fill="#ff4000"/></g>
<g id="C49"><circle cx="688" cy="1270" r="11" fill="#ffc400"/></g>
<g id="C50"><circle cx="687" cy="1278" r="11" fill="#ffc400"/></g>
<g id="C51"><circle cx="673" cy="1283" r="11" fill="#0000ff"/></g>
<g id="C52"><circle cx="747" cy="1281" r="11" fill="#f1fc00"/></g>
<g id="C53"><circle cx="647" cy="1293" r="11" fill="#00e4f8"/></g>
<g id="C54"><circle cx="660" cy="1303" r="11" fill="#00e4f8"/></g>
<g id="C55"><circle cx="680" cy="1303" r="11" fill="#00e4f8"/></g>
<g id="C56"><circle cx="663" cy="1310" r="11" fill="#00e4f8"/></g>
<g id="C57"><circle cx="700" cy="1303" r="11" fill="#ffd800"/></g>
<g id="C58"><circle cx="703" cy="1312" r="11" fill="#ffd800"/></g>
<g id="C59"><circle cx="724" cy="1310" r="11" fill="#ff6600"/></g>
<g id="C60"><circle cx="618" cy="1308" r="11" fill="#00a4ff"/></g>
<g id="C61"><circle cx="608" cy="1325" r="11" fill="#00a4ff"/></g>
<g id="C62"><circle cx="617" cy="1343" r="11" fill="#00a4ff"/></g>
<g id="C63"><circle cx="630" cy="1342" r="11" fill="#00a4ff"/></g>
<g id="C64"><circle cx="647" cy="1352" r="11" fill="#000096"/></g>
<g id="C65"><circle cx="712" cy="1330" r="11" fill="#000096"/></g>
<g id="C66"><circle cx="727" cy="1370" r="11" fill="#800000"/></g>
<g id="M1"><circle class="nm" cx="1009" cy="1109" r="11"/></g>
<g id="M2"><circle class="nm" cx="951" cy="1138" r="11"/></g>
<g id="M3"><circle class="nm" cx="969" cy="1139" r="11"/></g>
<g id="M4"><circle class="nm" cx="920" cy="1161" r="11"/></g>
<g id="M5"><circle class="nm" cx="1014" cy="1177" r="11"/></g>
<g id="M6"><circle class="nm" cx="967" cy="1187" r="11"/></g>
<g id="M7"><circle class="nm" cx="844" cy="1187" r="11"/></g>
<g id="M8"><circle class="nm" cx="815" cy="1187" r="11"/></g>
<g id="M9"><circle class="nm" cx="1033" cy="1213" r="11"/></g>
<g id="M10"><circle class="nm" cx="867" cy="1256" r="11"/></g>
<g id="M11"><circle class="nm" cx="914" cy="1254" r="11"/></g>
<g id="M12"><circle class="nm" cx="993" cy="1269" r="11"/></g>
<g id="M13"><circle class="nm" cx="1038" cy="1272" r="11"/></g>
<g id="M14"><circle class="nm" cx="795" cy="1282" r="11"/></g>
<g id="M14b"><circle class="nm" cx="790" cy="1288" r="11"/></g>
<g id="M15"><circle class="nm" cx="803" cy="1337" r="11"/></g>
<g id="M16"><circle class="nm" cx="850" cy="1348" r="11"/></g>
<g id="M17"><circle class="nm" cx="911" cy="1328" r="11"/></g>
<g id="M18"><circle class="nm" cx="919" cy="1374" r="11"/></g>
<g id="M19"><circle class="nm" cx="780" cy="1187" r="11"/></g>
<g id="M20"><circle class="nm" cx="778" cy="1205" r="11"/></g>
<g id="M21"><circle class="nm" cx="794" cy="1219" r="11"/></g>
<g id="R1"><circle class="nr" cx="1272" cy="992" r="11"/></g>
<g id="R2"><circle class="nr" cx="1298" cy="1041" r="11"/></g>
<g id="R3"><circle class="nr" cx="1355" cy="1110" r="11"/></g>
<g id="R4"><circle class="nr" cx="1247" cy="1147" r="11"/></g>
<g id="R5"><circle class="nr" cx="1223" cy="1198" r="11"/></g>
<g id="R6"><circle class="nr" cx="1174" cy="1238" r="11"/></g>
<g id="R7"><circle class="nr" cx="1408" cy="953" r="11"/></g>
</g>
</g>
<rect id="frame" x="22" y="15" width="1386" height="1385" fill="none" stroke="#262626" stroke-width="1.6"/>
</svg>
